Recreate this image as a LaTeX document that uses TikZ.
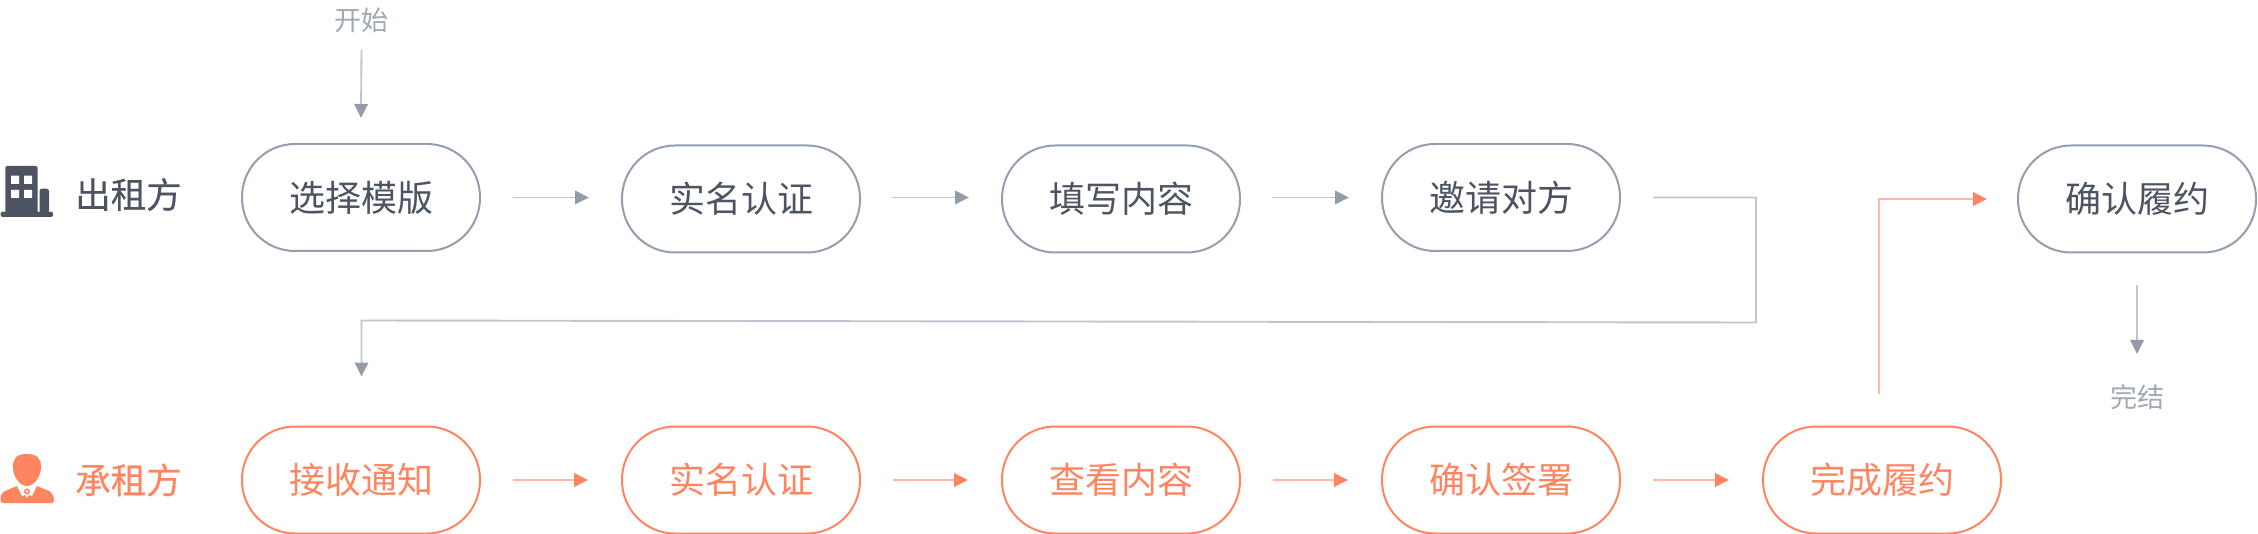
\documentclass[tikz,border=0pt]{standalone}
\usepackage{fontspec}
\setmainfont{Noto Sans CJK SC}
\newfontfamily\actorfont[FakeBold=0.35]{Noto Sans CJK SC}
\usetikzlibrary{arrows.meta}
\definecolor{ink}{HTML}{4C5361}
\definecolor{edgegray}{HTML}{959EAE}
\definecolor{linegray}{HTML}{BFC6D0}
\definecolor{headgray}{HTML}{939DAA}
\definecolor{labelgray}{HTML}{A0A8B4}
\definecolor{orange}{HTML}{FF8560}
\definecolor{lineorange}{HTML}{FFB8A2}
\tikzset{
  x=1pt,y=-1pt,
  pill/.style={draw,rounded corners=53pt,minimum width=238pt,minimum height=107pt,line width=2pt,inner sep=0pt,font=\fontsize{36}{40}\selectfont,anchor=center,fill=white},
  graypill/.style={pill,draw=edgegray,text=ink},
  orangepill/.style={pill,draw=orange,text=orange},
  actor/.style={inner sep=0pt,font=\actorfont\fontsize{35.5}{40}\selectfont},
  endlabel/.style={inner sep=0pt,text=labelgray,font=\fontsize{27}{30}\selectfont},
  grayarrow/.style={draw=linegray,line width=1.9pt,-{Triangle[length=14pt,width=13.5pt,color=headgray]}},
  orangearrow/.style={draw=lineorange,line width=1.9pt,-{Triangle[length=14pt,width=13.5pt,color=orange]}},
  stepgap/.style={shorten <=32pt,shorten >=33pt},
}
\begin{document}
\begin{tikzpicture}
\useasboundingbox (0,0) rectangle (2258,534);
% row 1
\node[graypill] (a) at (361,197.5) {选择模版};
\node[graypill] (b) at (741,199) {实名认证};
\node[graypill] (c) at (1121,199) {填写内容};
\node[graypill] (d) at (1501,197.5) {邀请对方};
\node[graypill] (e) at (2137,199) {确认履约};
% row 2
\node[orangepill] (f) at (361,480) {接收通知};
\node[orangepill] (g) at (741,480) {实名认证};
\node[orangepill] (h) at (1121,480) {查看内容};
\node[orangepill] (i) at (1501,480) {确认签署};
\node[orangepill] (j) at (1882,480) {完成履约};
% labels
\node[actor,text=ink] (lt) at (128.5,194.5) {出租方};
\node[actor,text=orange] (lr) at (128.5,480) {承租方};
\node[endlabel] (start) at (361.5,20) {开始};
\node[endlabel] (fin) at (2137,397) {完结};
% arrows
\coordinate (ab) at (622,197.5);\coordinate (bc) at (1002,197.5);\coordinate (cd) at (1382,197.5);
\coordinate (bo) at (860,197.5);\coordinate (co) at (1240,197.5);
\draw[grayarrow,stepgap] (a.east) -- (ab);
\draw[grayarrow,stepgap] (bo) -- (bc);
\draw[grayarrow,stepgap] (co) -- (cd);
\draw[orangearrow,stepgap] (f.east) -- (g.west);
\draw[orangearrow,stepgap] (g.east) -- (h.west);
\draw[orangearrow,stepgap] (h.east) -- (i.west);
\draw[orangearrow,stepgap] (i.east) -- (j.west);
\draw[grayarrow] ([yshift=-30pt]start.center) -- ([yshift=25pt]a.north);
\draw[grayarrow] ([yshift=-32pt]e.south) -- ([yshift=43pt]fin.center);
\coordinate (h1) at (1756,197.5);\coordinate (h2) at (1756,322.5);\coordinate (h3) at (361.5,320.5);
\draw[grayarrow,shorten <=32pt,shorten >=49pt] (d.east) -- (h1) -- (h2) -- (h3) -- (h3 |- f.north);
\coordinate (o1) at (1879,199);\coordinate (o2) at (2018,199);
\draw[orangearrow,shorten <=32pt,shorten >=31pt] (j.north -| o1) -- (o1) -- (o2);
% building icon
\fill[ink,rounded corners=1.5pt] (5.3,166) rectangle (37.7,213);
\fill[ink,rounded corners=2.5pt] (39.5,188.7) rectangle (49,213);
\fill[ink,rounded corners=2pt] (0.7,211.7) rectangle (53,217);
\fill[white] (11,175.7) rectangle (19,184) (24,175.7) rectangle (32,184) (11,190) rectangle (19,198) (24,190) rectangle (32,198);
% person icon
\fill[orange] (27,454) .. controls (16,454) and (13,459) .. (13,467) .. controls (13,477) and (20,486) .. (27,486) .. controls (34,486) and (41,477) .. (41,467) .. controls (41,459) and (38,454) .. (27,454) -- cycle;
\fill[orange] (0.5,499) .. controls (0.5,495) and (2,493) .. (5,491) -- (17,486) -- (22,496) -- (25,495) -- (27,498) -- (29,495) -- (32,496) -- (37,486) -- (49,491) .. controls (52,493) and (54,496) .. (54,500) .. controls (54,502) and (53,503) .. (52,503) -- (3,503) .. controls (1,503) and (0.5,501) .. (0.5,499) -- cycle;
\fill[orange] (27,491.5) circle (3pt);
\fill[white] (27,491.5) circle (1.3pt);
\end{tikzpicture}
\end{document}
